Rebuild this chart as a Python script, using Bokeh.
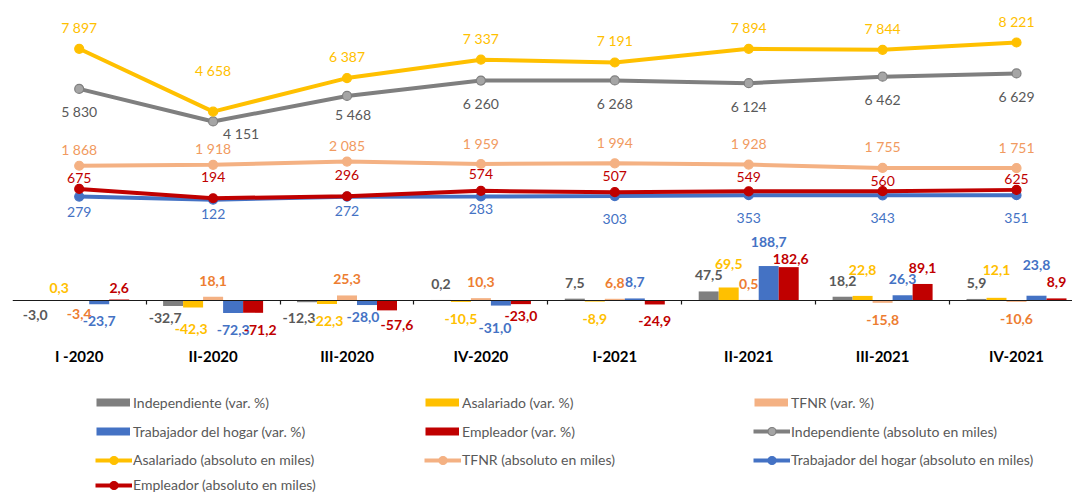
from bokeh.plotting import figure
from bokeh.models import (Range1d, LinearAxis, FixedTicker, Legend, LegendItem,
                          CustomJSTickFormatter)
from bokeh.embed import file_html
from bokeh.resources import INLINE
from bokeh.core.properties import value

# ---------------- data ----------------
categories = ["I -2020", "II-2020", "III-2020", "IV-2020",
              "I-2021", "II-2021", "III-2021", "IV-2021"]

series_names = ["Independiente", "Asalariado", "TFNR", "Trabajador del hogar", "Empleador"]

# variation (%)
var_independiente = [-3.0, -32.7, -12.3, 0.2, 7.5, 47.5, 18.2, 5.9]
var_asalariado = [0.3, -42.3, -22.3, -10.5, -8.9, 69.5, 22.8, 12.1]
var_tfnr = [-3.4, 18.1, 25.3, 10.3, 6.8, 0.5, -15.8, -10.6]
var_trabajador = [-23.7, -72.3, -28.0, -31.0, 8.7, 188.7, 26.3, 23.8]
var_empleador = [2.6, -71.2, -57.6, -23.0, -24.9, 182.6, 89.1, 8.9]

# absolute (thousands)
abs_independiente = [5830, 4151, 5468, 6260, 6268, 6124, 6462, 6629]
abs_asalariado = [7897, 4658, 6387, 7337, 7191, 7894, 7844, 8221]
abs_tfnr = [1868, 1918, 2085, 1959, 1994, 1928, 1755, 1751]
abs_trabajador = [279, 122, 272, 283, 303, 353, 343, 351]
abs_empleador = [675, 194, 296, 574, 507, 549, 560, 625]

var_series = [var_independiente, var_asalariado, var_tfnr, var_trabajador, var_empleador]
abs_series = [abs_independiente, abs_asalariado, abs_tfnr, abs_trabajador, abs_empleador]

# ---------------- style ----------------
FONT = "Lato"
bar_colors = ["#7f7f7f", "#ffc000", "#f4b183", "#4472c4", "#c00000"]
bar_label_colors = ["#595959", "#ffc000", "#ed7d31", "#4472c4", "#c00000"]
line_colors = ["#7f7f7f", "#ffc000", "#f4b183", "#4472c4", "#c00000"]
marker_fill = ["#a5a5a5", "#ffc000", "#f4b183", "#4472c4", "#c00000"]
line_label_colors = ["#595959", "#ffc000", "#f19a60", "#4472c4", "#c00000"]

# label offsets in screen pixels (positive = downwards)
line_label_dy = [
    [23, 12, 19, 23, 23, 23, 23, 23],
    [-21.5, -41, -21.5, -21.5, -21.5, -21.5, -21.5, -21.5],
    [-16, -16, -16, -20, -21, -21, -21, -21],
    [15, 14, 14, 12, 23, 23, 23, 23],
    [-11, -21, -21, -17, -16, -14, -10, -11],
]
line_label_dx = [
    [0, 28, 6, 0, 0, 0, 0, 0],
    [0] * 8, [0] * 8, [0] * 8, [0] * 8,
]
bar_label_nudge = {
    (0, 0): (-4, -3), (1, 0): (0, 4), (2, 0): (0, -4), (4, 0): (0, 4),
    (0, 1): (-8, -5), (1, 1): (-2, 4), (4, 1): (7, 0),
    (0, 2): (-8, -1), (3, 2): (-4, -5), (4, 2): (10, -2),
    (3, 3): (-6, 5), (4, 3): (0, -5),
    (1, 5): (0, -7), (3, 5): (0, -8), (4, 5): (2, 8),
    (1, 6): (0, -10),
    (1, 7): (0, -12), (3, 7): (0, -15),
}

# ---------------- geometry ----------------
W, H = 1072, 495
PAGE = 0
CAT_PX = 133.9           # px per category
X0_PX = 78.7             # page x of first category centre
FRAME_LEFT = 12          # page x of frame left
BAR_ZERO_PX, BAR_SCALE = 299.5, 0.18
LINE_ZERO_PX, LINE_SCALE = 201.5, 0.0194
FRAME_TOP, FRAME_BOTTOM = PAGE, PAGE + H

x_start = (FRAME_LEFT - X0_PX) / CAT_PX
x_end = x_start + (W - (FRAME_LEFT - PAGE)) / CAT_PX
bar_top = (BAR_ZERO_PX - FRAME_TOP) / BAR_SCALE
bar_bottom = -(FRAME_BOTTOM - BAR_ZERO_PX) / BAR_SCALE
line_top = (LINE_ZERO_PX - FRAME_TOP) / LINE_SCALE
line_bottom = -(FRAME_BOTTOM - LINE_ZERO_PX) / LINE_SCALE
BAR_W = 20 / CAT_PX

p = figure(width=W, height=H, output_backend="svg", toolbar_location=None,
           x_range=Range1d(x_start, x_end), y_range=Range1d(bar_bottom, bar_top),
           x_axis_location=None, y_axis_location=None,
           min_border_left=FRAME_LEFT - PAGE, min_border_right=0,
           min_border_top=0, min_border_bottom=0)
p.extra_y_ranges = {"abs": Range1d(line_bottom, line_top)}
p.grid.visible = False
p.outline_line_color = None
p.background_fill_color = "white"
p.border_fill_color = "white"

idx = list(range(len(categories)))

# ---------------- bars ----------------
for k, vals in enumerate(var_series):
    xs = [i + (k - 2) * BAR_W for i in idx]
    p.vbar(x=xs, top=vals, bottom=0, width=BAR_W, fill_color=bar_colors[k], line_color=None)

# zero axis with boundary ticks
zero_axis = LinearAxis(fixed_location=0,
                       ticker=FixedTicker(ticks=[i - 0.5 for i in range(len(categories) + 1)]),
                       formatter=CustomJSTickFormatter(code="return ''"),
                       major_tick_in=0, major_tick_out=4,
                       axis_line_color="#1a1a1a", axis_line_width=1.2,
                       major_tick_line_color="#1a1a1a", major_tick_line_width=1.2,
                       minor_tick_line_color=None)
p.add_layout(zero_axis, "below")

# category axis
CAT_AXIS_PX = 346
cat_axis = LinearAxis(fixed_location=-(CAT_AXIS_PX - BAR_ZERO_PX) / BAR_SCALE,
                      ticker=FixedTicker(ticks=idx),
                      major_label_overrides={i: c for i, c in enumerate(categories)},
                      axis_line_color=None, major_tick_line_color=None,
                      minor_tick_line_color=None, major_label_standoff=0,
                      major_tick_out=0, major_tick_in=0,
                      major_label_text_font=FONT, major_label_text_font_style="bold",
                      major_label_text_font_size="15px", major_label_text_color="#000000")
p.add_layout(cat_axis, "below")

# bar labels
for k, vals in enumerate(var_series):
    xs = [i + (k - 2) * BAR_W for i in idx]
    dxs, dys, texts = [], [], []
    for i, v in enumerate(vals):
        ndx, ndy = bar_label_nudge.get((k, i), (0, 0))
        dxs.append(ndx)
        dys.append((-16 if v >= 0 else 17) + ndy)
        texts.append(f"{v:.1f}".replace(".", ","))
    p.text(x=xs, y=vals, text=texts, x_offset=dxs, y_offset=dys,
           text_align="center", text_baseline="middle",
           text_font=value(FONT), text_font_style="bold", text_font_size="14px",
           text_color=bar_label_colors[k])

# ---------------- lines ----------------
line_renderers = []
for k, vals in enumerate(abs_series):
    lr = p.line(x=idx, y=vals, y_range_name="abs", line_color=line_colors[k], line_width=4)
    sr = p.scatter(x=idx, y=vals, y_range_name="abs", size=9,
                   fill_color=marker_fill[k], line_color=line_colors[k], line_width=1.2)
    line_renderers.append([lr, sr])

for k, vals in enumerate(abs_series):
    texts = [f"{v:,}".replace(",", " ") for v in vals]
    p.text(x=idx, y=vals, text=texts, y_range_name="abs",
           x_offset=line_label_dx[k], y_offset=line_label_dy[k],
           text_align="center", text_baseline="middle",
           text_font=value(FONT), text_font_size="14px",
           text_color=line_label_colors[k])

# ---------------- legend ----------------
# legend swatches for the bar series: thick line stubs placed outside the visible range
off = [x_start - 3, x_start - 2]
swatch_renderers = []
for k in range(5):
    swatch_renderers.append(p.line(x=off, y=[0, 0], line_color=bar_colors[k], line_width=8,
                                   line_cap="butt"))

legend_entries = []
for k, n in enumerate(series_names):
    legend_entries.append((f"{n} (var. %)", [swatch_renderers[k]], "bar"))
for k, n in enumerate(series_names):
    legend_entries.append((f"{n} (absoluto en miles)", line_renderers[k], "line"))

COL_X = [96, 425, 754]
ROW_Y = [402.3, 431.0, 459.7, 484.5]
ITEM_H = 20
for j, (label, rends, kind) in enumerate(legend_entries):
    r, c = divmod(j, 3)
    if kind == "bar":
        lx, gw, st = COL_X[c], 34, 3
    else:
        lx, gw, st = COL_X[c] - 1, 37, 1
    leg = Legend(items=[LegendItem(label=label, renderers=rends)],
                 location=(lx - FRAME_LEFT, FRAME_BOTTOM - (ROW_Y[r] + ITEM_H / 2)),
                 glyph_width=gw, glyph_height=ITEM_H, label_height=ITEM_H,
                 label_standoff=st, padding=0, margin=0, spacing=0,
                 border_line_color=None, background_fill_alpha=0,
                 label_text_font=FONT, label_text_font_size="14px",
                 label_text_color="#595959")
    p.add_layout(leg)

open("out.html", "w").write(file_html(p, INLINE))
